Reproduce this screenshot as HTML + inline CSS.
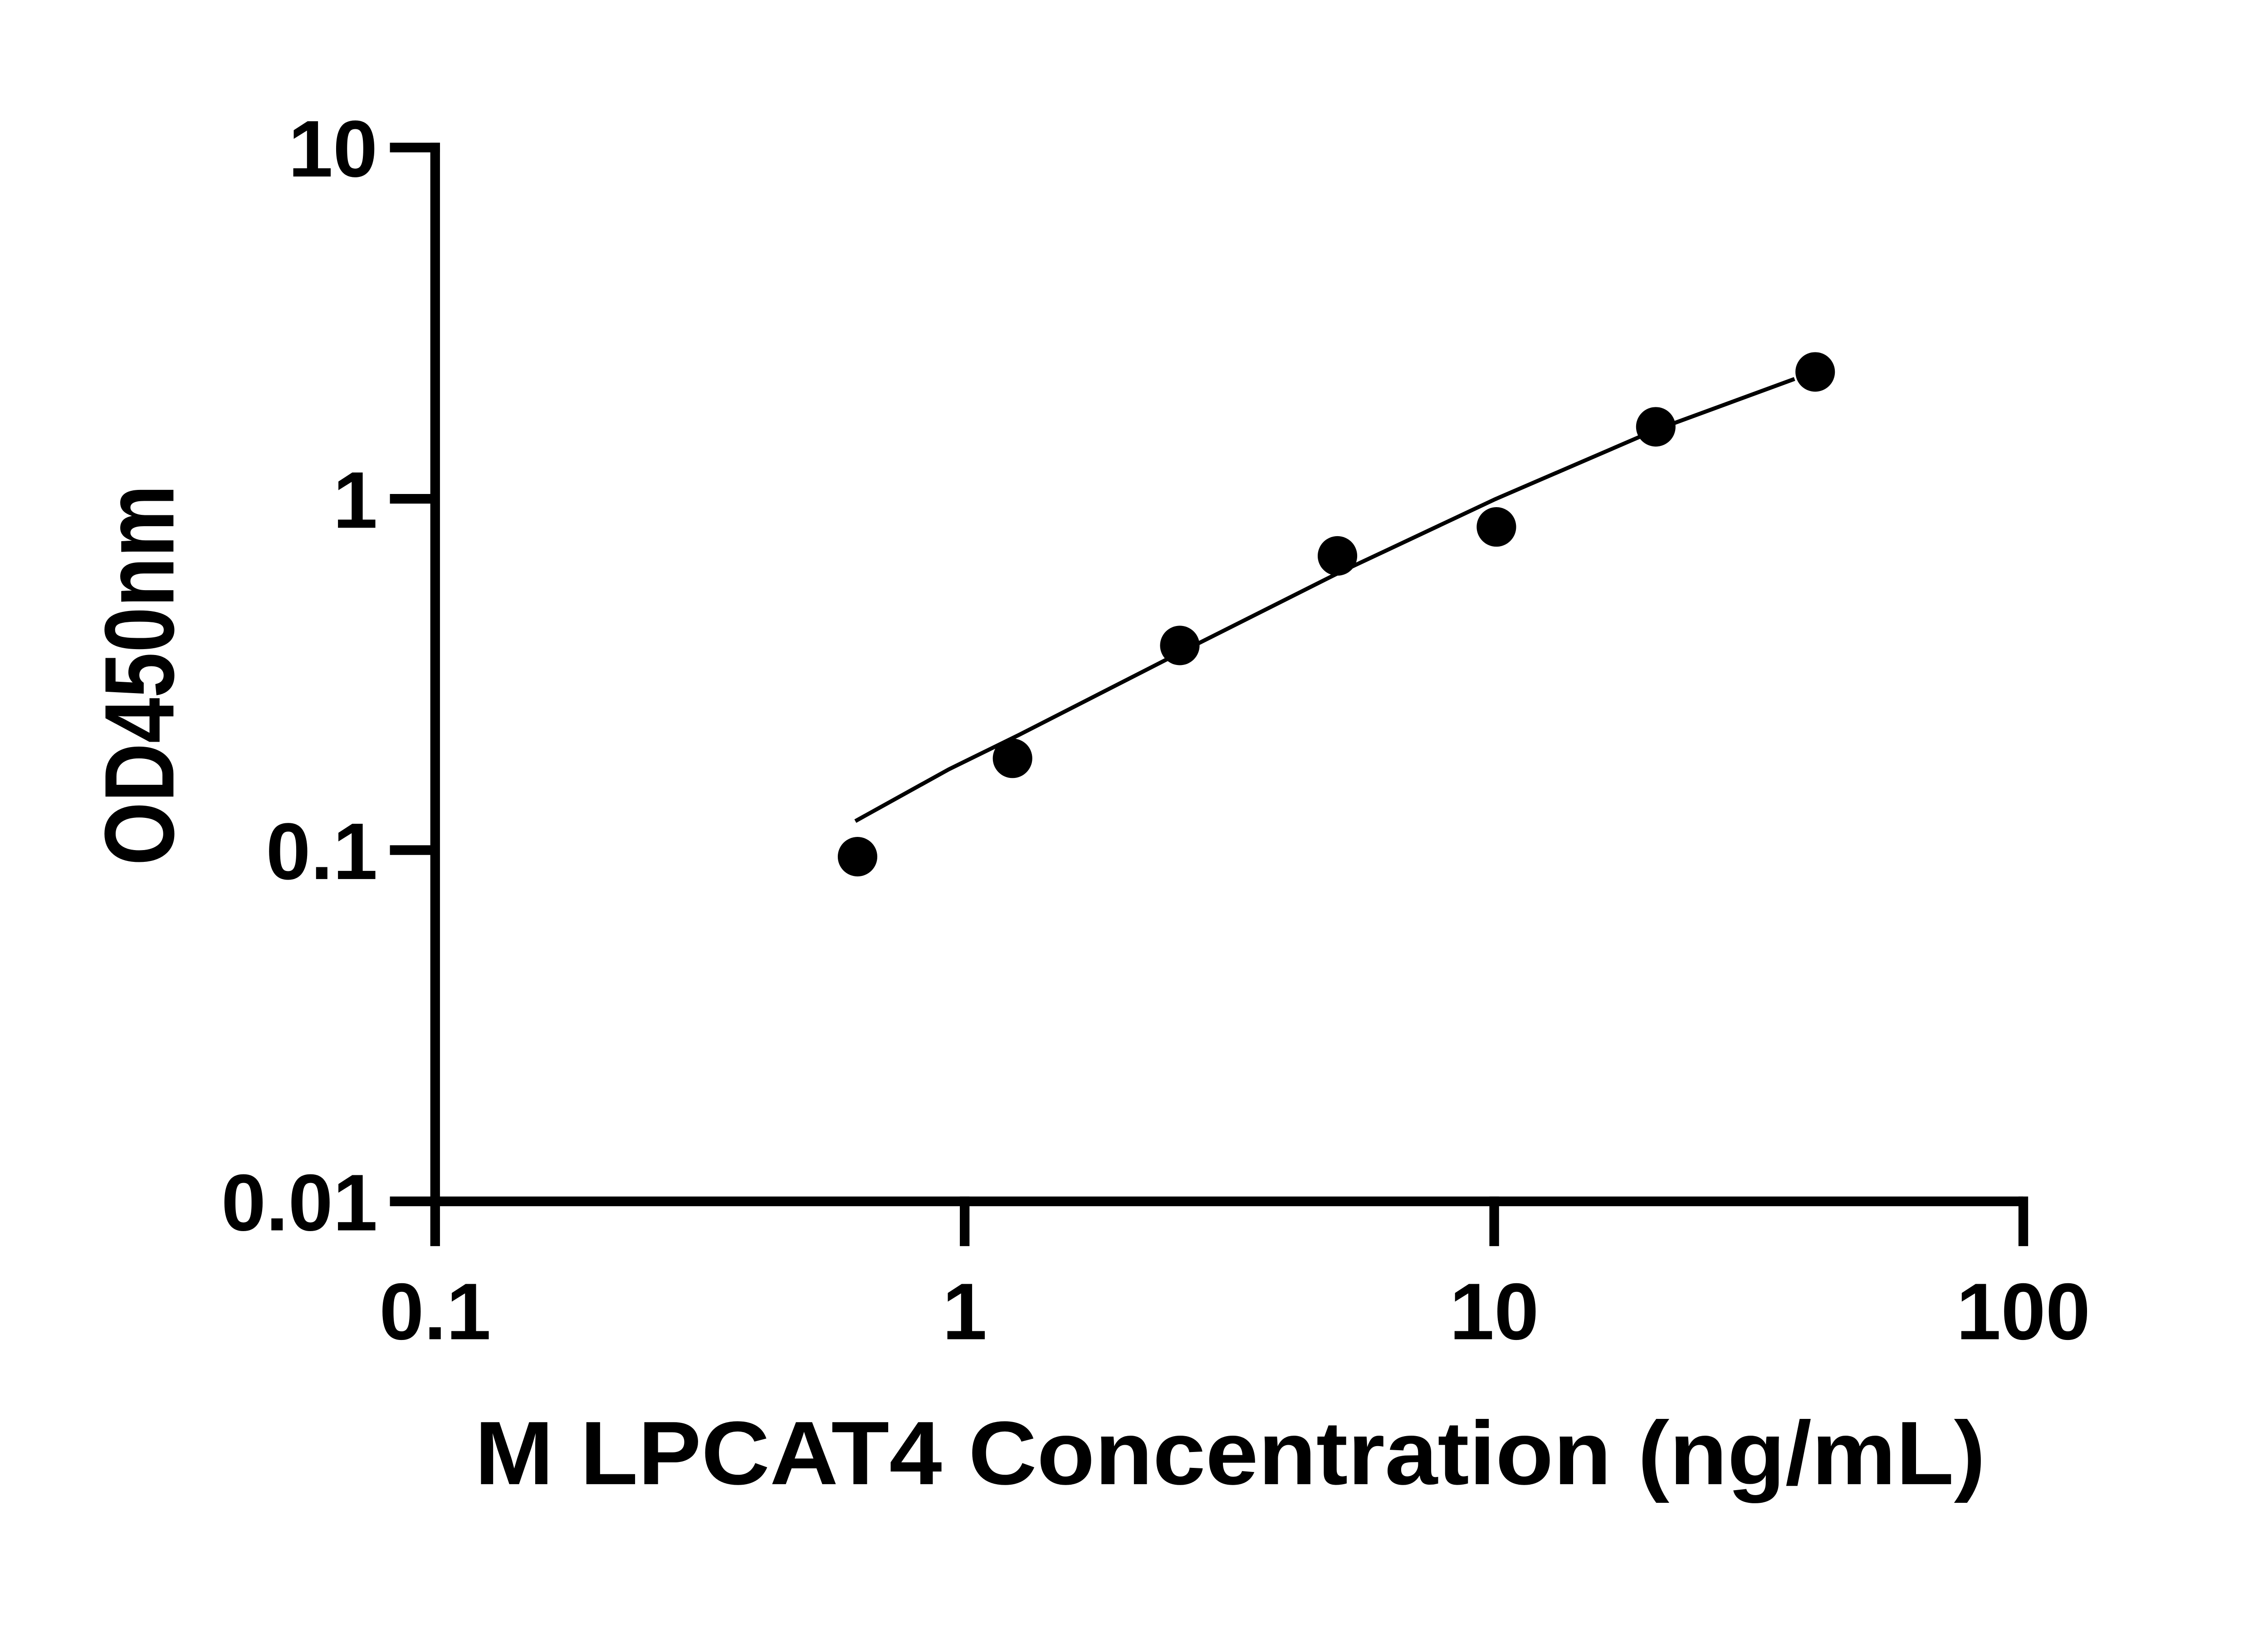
<!DOCTYPE html>
<html><head><meta charset="utf-8"><style>html,body{margin:0;padding:0;background:#fff}svg{display:block}</style></head>
<body>
<svg width="5142" height="3600" viewBox="0 0 5142 3600" xmlns="http://www.w3.org/2000/svg">
<rect width="5142" height="3600" fill="#fff"/>
<g transform="scale(0.968)">
<g stroke="#000" stroke-width="22" fill="none" stroke-linecap="butt">
<line x1="991" y1="325" x2="991" y2="2747"/>
<line x1="980" y1="2736" x2="4608" y2="2736"/>
<line x1="888" y1="336" x2="1002" y2="336"/>
<line x1="888" y1="1136" x2="991" y2="1136"/>
<line x1="888" y1="1936" x2="991" y2="1936"/>
<line x1="888" y1="2736" x2="991" y2="2736"/>
<line x1="991" y1="2736" x2="991" y2="2838"/>
<line x1="2197" y1="2725" x2="2197" y2="2838"/>
<line x1="3403" y1="2725" x2="3403" y2="2838"/>
<line x1="4608" y1="2725" x2="4608" y2="2838"/>
</g>
<polyline fill="none" stroke="#000" stroke-width="9" points="1948,1870 2161,1752 2320,1674 2686,1487 3046,1306 3405,1137 3771,979 4087,863"/>
<g fill="#000">
<circle cx="1953" cy="1951" r="45"/>
<circle cx="2306" cy="1727" r="45"/>
<circle cx="2687" cy="1470" r="45"/>
<circle cx="3046" cy="1266" r="45"/>
<circle cx="3408" cy="1200" r="45"/>
<circle cx="3771" cy="972" r="45"/>
<circle cx="4134" cy="847" r="45"/>
</g>
<g font-family="Liberation Sans, Arial, sans-serif" font-weight="bold" font-size="183" fill="#000">
<g text-anchor="end">
<text x="860" y="402">10</text>
<text x="860" y="1202">1</text>
<text x="860" y="2002">0.1</text>
<text x="860" y="2802">0.01</text>
</g>
<g text-anchor="middle">
<text x="991" y="3050">0.1</text>
<text x="2197" y="3050">1</text>
<text x="3403" y="3050">10</text>
<text x="4608" y="3050">100</text>
</g>
<text x="1081" y="3380" font-size="205" textLength="3441" lengthAdjust="spacingAndGlyphs">M LPCAT4 Concentration (ng/mL)</text>
<text transform="translate(395,1971) rotate(-90)" font-size="225" textLength="867" lengthAdjust="spacingAndGlyphs">OD450nm</text>
</g>
</g>
</svg>
</body></html>
